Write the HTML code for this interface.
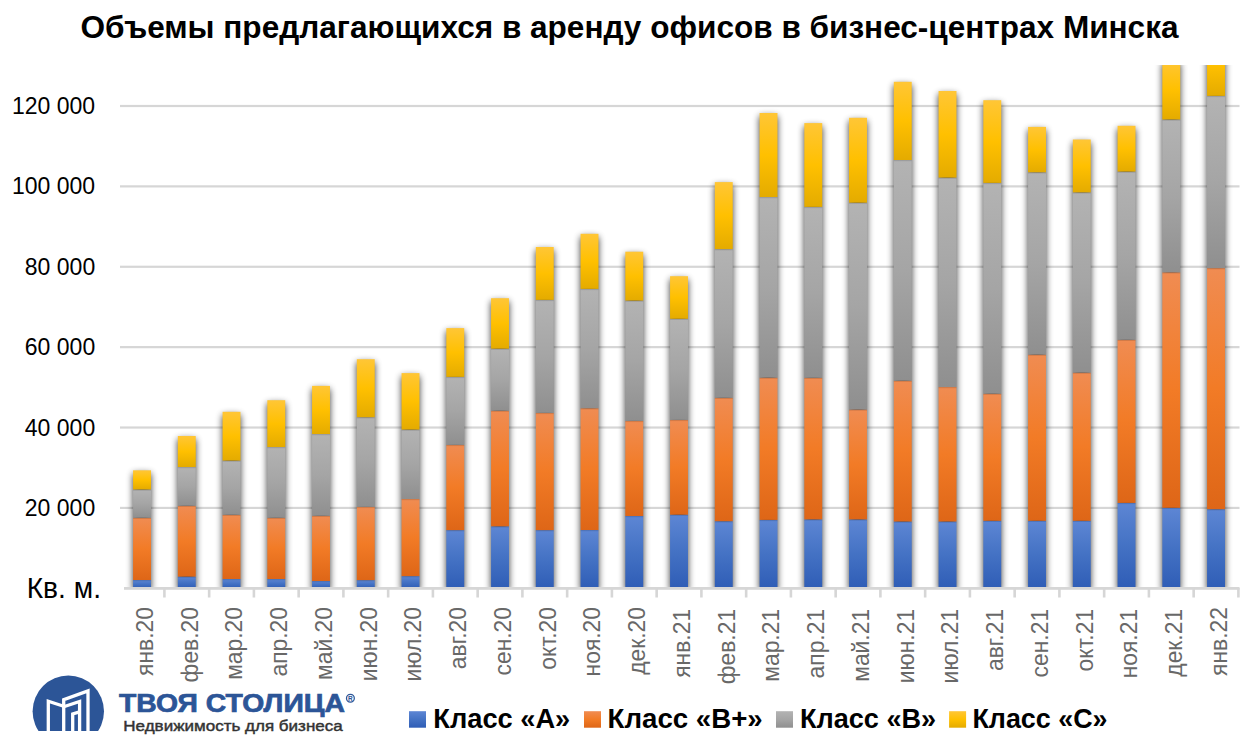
<!DOCTYPE html>
<html><head><meta charset="utf-8"><title>Объемы предлагающихся в аренду офисов</title>
<style>
html,body{margin:0;padding:0;background:#fff;}
body{width:1256px;height:752px;overflow:hidden;position:relative;}
svg{position:absolute;left:0;top:0;display:block;}
.t{font-family:"Liberation Sans","Noto Sans CJK SC",sans-serif;}
</style></head><body>
<svg width="1256" height="752" viewBox="0 0 1256 752">
<defs>
<linearGradient id="gA" x1="0" y1="0" x2="0" y2="1"><stop offset="0" stop-color="#5d86d4"/><stop offset="0.5" stop-color="#4472c4"/><stop offset="1" stop-color="#2f5db6"/></linearGradient>
<linearGradient id="gBp" x1="0" y1="0" x2="0" y2="1"><stop offset="0" stop-color="#f08c52"/><stop offset="0.5" stop-color="#f27b26"/><stop offset="1" stop-color="#de6617"/></linearGradient>
<linearGradient id="gB" x1="0" y1="0" x2="0" y2="1"><stop offset="0" stop-color="#b3b3b3"/><stop offset="0.5" stop-color="#a5a5a5"/><stop offset="1" stop-color="#8f8f8f"/></linearGradient>
<linearGradient id="gC" x1="0" y1="0" x2="0" y2="1"><stop offset="0" stop-color="#ffc636"/><stop offset="0.5" stop-color="#ffc000"/><stop offset="1" stop-color="#e4ab00"/></linearGradient>
<filter id="sh" x="-50%" y="-20%" width="200%" height="140%">
<feGaussianBlur in="SourceAlpha" stdDeviation="3.5"/>
<feOffset dx="0" dy="3" result="b"/>
<feComponentTransfer><feFuncA type="linear" slope="0.78"/></feComponentTransfer>
</filter>
<clipPath id="plot"><rect x="100" y="65" width="1156" height="523.3"/></clipPath>
</defs>
<rect width="1256" height="752" fill="#fff"/>
<rect x="120" y="506.82" width="1119.5" height="2.2" fill="#d6d6d6"/>
<rect x="120" y="426.43" width="1119.5" height="2.2" fill="#d6d6d6"/>
<rect x="120" y="346.05" width="1119.5" height="2.2" fill="#d6d6d6"/>
<rect x="120" y="265.67" width="1119.5" height="2.2" fill="#d6d6d6"/>
<rect x="120" y="185.28" width="1119.5" height="2.2" fill="#d6d6d6"/>
<rect x="120" y="104.90" width="1119.5" height="2.2" fill="#d6d6d6"/>
<g clip-path="url(#plot)">
<rect x="133.08" y="470.30" width="17.9" height="118.00" fill="#000" filter="url(#sh)"/>
<rect x="177.83" y="436.00" width="17.9" height="152.30" fill="#000" filter="url(#sh)"/>
<rect x="222.58" y="411.80" width="17.9" height="176.50" fill="#000" filter="url(#sh)"/>
<rect x="267.32" y="400.20" width="17.9" height="188.10" fill="#000" filter="url(#sh)"/>
<rect x="312.07" y="385.90" width="17.9" height="202.40" fill="#000" filter="url(#sh)"/>
<rect x="356.82" y="359.20" width="17.9" height="229.10" fill="#000" filter="url(#sh)"/>
<rect x="401.57" y="373.10" width="17.9" height="215.20" fill="#000" filter="url(#sh)"/>
<rect x="446.32" y="328.10" width="17.9" height="260.20" fill="#000" filter="url(#sh)"/>
<rect x="491.07" y="298.20" width="17.9" height="290.10" fill="#000" filter="url(#sh)"/>
<rect x="535.82" y="247.00" width="17.9" height="341.30" fill="#000" filter="url(#sh)"/>
<rect x="580.57" y="233.80" width="17.9" height="354.50" fill="#000" filter="url(#sh)"/>
<rect x="625.32" y="251.70" width="17.9" height="336.60" fill="#000" filter="url(#sh)"/>
<rect x="670.07" y="276.20" width="17.9" height="312.10" fill="#000" filter="url(#sh)"/>
<rect x="714.82" y="182.10" width="17.9" height="406.20" fill="#000" filter="url(#sh)"/>
<rect x="759.57" y="113.00" width="17.9" height="475.30" fill="#000" filter="url(#sh)"/>
<rect x="804.32" y="123.10" width="17.9" height="465.20" fill="#000" filter="url(#sh)"/>
<rect x="849.07" y="117.80" width="17.9" height="470.50" fill="#000" filter="url(#sh)"/>
<rect x="893.82" y="81.80" width="17.9" height="506.50" fill="#000" filter="url(#sh)"/>
<rect x="938.57" y="91.00" width="17.9" height="497.30" fill="#000" filter="url(#sh)"/>
<rect x="983.32" y="100.20" width="17.9" height="488.10" fill="#000" filter="url(#sh)"/>
<rect x="1028.08" y="126.90" width="17.9" height="461.40" fill="#000" filter="url(#sh)"/>
<rect x="1072.83" y="139.50" width="17.9" height="448.80" fill="#000" filter="url(#sh)"/>
<rect x="1117.58" y="125.80" width="17.9" height="462.50" fill="#000" filter="url(#sh)"/>
<rect x="1162.33" y="60.00" width="17.9" height="528.30" fill="#000" filter="url(#sh)"/>
<rect x="1207.08" y="34.00" width="17.9" height="554.30" fill="#000" filter="url(#sh)"/>
<rect x="133.08" y="580.00" width="17.9" height="8.30" fill="url(#gA)"/>
<rect x="177.83" y="576.60" width="17.9" height="11.70" fill="url(#gA)"/>
<rect x="222.58" y="579.00" width="17.9" height="9.30" fill="url(#gA)"/>
<rect x="267.32" y="579.00" width="17.9" height="9.30" fill="url(#gA)"/>
<rect x="312.07" y="581.00" width="17.9" height="7.30" fill="url(#gA)"/>
<rect x="356.82" y="580.10" width="17.9" height="8.20" fill="url(#gA)"/>
<rect x="401.57" y="576.10" width="17.9" height="12.20" fill="url(#gA)"/>
<rect x="446.32" y="530.10" width="17.9" height="58.20" fill="url(#gA)"/>
<rect x="491.07" y="526.30" width="17.9" height="62.00" fill="url(#gA)"/>
<rect x="535.82" y="530.10" width="17.9" height="58.20" fill="url(#gA)"/>
<rect x="580.57" y="530.00" width="17.9" height="58.30" fill="url(#gA)"/>
<rect x="625.32" y="516.00" width="17.9" height="72.30" fill="url(#gA)"/>
<rect x="670.07" y="514.70" width="17.9" height="73.60" fill="url(#gA)"/>
<rect x="714.82" y="521.20" width="17.9" height="67.10" fill="url(#gA)"/>
<rect x="759.57" y="519.90" width="17.9" height="68.40" fill="url(#gA)"/>
<rect x="804.32" y="519.40" width="17.9" height="68.90" fill="url(#gA)"/>
<rect x="849.07" y="519.40" width="17.9" height="68.90" fill="url(#gA)"/>
<rect x="893.82" y="521.50" width="17.9" height="66.80" fill="url(#gA)"/>
<rect x="938.57" y="521.50" width="17.9" height="66.80" fill="url(#gA)"/>
<rect x="983.32" y="520.80" width="17.9" height="67.50" fill="url(#gA)"/>
<rect x="1028.08" y="520.80" width="17.9" height="67.50" fill="url(#gA)"/>
<rect x="1072.83" y="520.80" width="17.9" height="67.50" fill="url(#gA)"/>
<rect x="1117.58" y="502.90" width="17.9" height="85.40" fill="url(#gA)"/>
<rect x="1162.33" y="507.80" width="17.9" height="80.50" fill="url(#gA)"/>
<rect x="1207.08" y="509.20" width="17.9" height="79.10" fill="url(#gA)"/>
<rect x="133.08" y="517.80" width="17.9" height="62.20" fill="url(#gBp)"/>
<rect x="177.83" y="505.80" width="17.9" height="70.80" fill="url(#gBp)"/>
<rect x="222.58" y="514.80" width="17.9" height="64.20" fill="url(#gBp)"/>
<rect x="267.32" y="517.80" width="17.9" height="61.20" fill="url(#gBp)"/>
<rect x="312.07" y="515.80" width="17.9" height="65.20" fill="url(#gBp)"/>
<rect x="356.82" y="506.90" width="17.9" height="73.20" fill="url(#gBp)"/>
<rect x="401.57" y="499.00" width="17.9" height="77.10" fill="url(#gBp)"/>
<rect x="446.32" y="444.90" width="17.9" height="85.20" fill="url(#gBp)"/>
<rect x="491.07" y="410.70" width="17.9" height="115.60" fill="url(#gBp)"/>
<rect x="535.82" y="412.90" width="17.9" height="117.20" fill="url(#gBp)"/>
<rect x="580.57" y="408.20" width="17.9" height="121.80" fill="url(#gBp)"/>
<rect x="625.32" y="420.90" width="17.9" height="95.10" fill="url(#gBp)"/>
<rect x="670.07" y="419.90" width="17.9" height="94.80" fill="url(#gBp)"/>
<rect x="714.82" y="397.80" width="17.9" height="123.40" fill="url(#gBp)"/>
<rect x="759.57" y="377.60" width="17.9" height="142.30" fill="url(#gBp)"/>
<rect x="804.32" y="377.80" width="17.9" height="141.60" fill="url(#gBp)"/>
<rect x="849.07" y="409.50" width="17.9" height="109.90" fill="url(#gBp)"/>
<rect x="893.82" y="380.70" width="17.9" height="140.80" fill="url(#gBp)"/>
<rect x="938.57" y="387.00" width="17.9" height="134.50" fill="url(#gBp)"/>
<rect x="983.32" y="393.70" width="17.9" height="127.10" fill="url(#gBp)"/>
<rect x="1028.08" y="354.60" width="17.9" height="166.20" fill="url(#gBp)"/>
<rect x="1072.83" y="372.60" width="17.9" height="148.20" fill="url(#gBp)"/>
<rect x="1117.58" y="339.80" width="17.9" height="163.10" fill="url(#gBp)"/>
<rect x="1162.33" y="272.30" width="17.9" height="235.50" fill="url(#gBp)"/>
<rect x="1207.08" y="268.10" width="17.9" height="241.10" fill="url(#gBp)"/>
<rect x="133.08" y="489.50" width="17.9" height="28.30" fill="url(#gB)"/>
<rect x="177.83" y="467.00" width="17.9" height="38.80" fill="url(#gB)"/>
<rect x="222.58" y="460.60" width="17.9" height="54.20" fill="url(#gB)"/>
<rect x="267.32" y="447.00" width="17.9" height="70.80" fill="url(#gB)"/>
<rect x="312.07" y="434.00" width="17.9" height="81.80" fill="url(#gB)"/>
<rect x="356.82" y="417.20" width="17.9" height="89.70" fill="url(#gB)"/>
<rect x="401.57" y="429.60" width="17.9" height="69.40" fill="url(#gB)"/>
<rect x="446.32" y="376.90" width="17.9" height="68.00" fill="url(#gB)"/>
<rect x="491.07" y="348.70" width="17.9" height="62.00" fill="url(#gB)"/>
<rect x="535.82" y="299.90" width="17.9" height="113.00" fill="url(#gB)"/>
<rect x="580.57" y="288.90" width="17.9" height="119.30" fill="url(#gB)"/>
<rect x="625.32" y="300.60" width="17.9" height="120.30" fill="url(#gB)"/>
<rect x="670.07" y="318.80" width="17.9" height="101.10" fill="url(#gB)"/>
<rect x="714.82" y="249.10" width="17.9" height="148.70" fill="url(#gB)"/>
<rect x="759.57" y="197.00" width="17.9" height="180.60" fill="url(#gB)"/>
<rect x="804.32" y="206.90" width="17.9" height="170.90" fill="url(#gB)"/>
<rect x="849.07" y="202.70" width="17.9" height="206.80" fill="url(#gB)"/>
<rect x="893.82" y="160.00" width="17.9" height="220.70" fill="url(#gB)"/>
<rect x="938.57" y="177.60" width="17.9" height="209.40" fill="url(#gB)"/>
<rect x="983.32" y="182.90" width="17.9" height="210.80" fill="url(#gB)"/>
<rect x="1028.08" y="172.30" width="17.9" height="182.30" fill="url(#gB)"/>
<rect x="1072.83" y="192.40" width="17.9" height="180.20" fill="url(#gB)"/>
<rect x="1117.58" y="171.60" width="17.9" height="168.20" fill="url(#gB)"/>
<rect x="1162.33" y="119.50" width="17.9" height="152.80" fill="url(#gB)"/>
<rect x="1207.08" y="95.90" width="17.9" height="172.20" fill="url(#gB)"/>
<rect x="133.08" y="470.30" width="17.9" height="19.20" fill="url(#gC)"/>
<rect x="177.83" y="436.00" width="17.9" height="31.00" fill="url(#gC)"/>
<rect x="222.58" y="411.80" width="17.9" height="48.80" fill="url(#gC)"/>
<rect x="267.32" y="400.20" width="17.9" height="46.80" fill="url(#gC)"/>
<rect x="312.07" y="385.90" width="17.9" height="48.10" fill="url(#gC)"/>
<rect x="356.82" y="359.20" width="17.9" height="58.00" fill="url(#gC)"/>
<rect x="401.57" y="373.10" width="17.9" height="56.50" fill="url(#gC)"/>
<rect x="446.32" y="328.10" width="17.9" height="48.80" fill="url(#gC)"/>
<rect x="491.07" y="298.20" width="17.9" height="50.50" fill="url(#gC)"/>
<rect x="535.82" y="247.00" width="17.9" height="52.90" fill="url(#gC)"/>
<rect x="580.57" y="233.80" width="17.9" height="55.10" fill="url(#gC)"/>
<rect x="625.32" y="251.70" width="17.9" height="48.90" fill="url(#gC)"/>
<rect x="670.07" y="276.20" width="17.9" height="42.60" fill="url(#gC)"/>
<rect x="714.82" y="182.10" width="17.9" height="67.00" fill="url(#gC)"/>
<rect x="759.57" y="113.00" width="17.9" height="84.00" fill="url(#gC)"/>
<rect x="804.32" y="123.10" width="17.9" height="83.80" fill="url(#gC)"/>
<rect x="849.07" y="117.80" width="17.9" height="84.90" fill="url(#gC)"/>
<rect x="893.82" y="81.80" width="17.9" height="78.20" fill="url(#gC)"/>
<rect x="938.57" y="91.00" width="17.9" height="86.60" fill="url(#gC)"/>
<rect x="983.32" y="100.20" width="17.9" height="82.70" fill="url(#gC)"/>
<rect x="1028.08" y="126.90" width="17.9" height="45.40" fill="url(#gC)"/>
<rect x="1072.83" y="139.50" width="17.9" height="52.90" fill="url(#gC)"/>
<rect x="1117.58" y="125.80" width="17.9" height="45.80" fill="url(#gC)"/>
<rect x="1162.33" y="60.00" width="17.9" height="59.50" fill="url(#gC)"/>
<rect x="1207.08" y="34.00" width="17.9" height="61.90" fill="url(#gC)"/>
<rect x="133.08" y="580.00" width="17.9" height="1.2" fill="#000" fill-opacity="0.12"/>
<rect x="177.83" y="576.60" width="17.9" height="1.2" fill="#000" fill-opacity="0.12"/>
<rect x="222.58" y="579.00" width="17.9" height="1.2" fill="#000" fill-opacity="0.12"/>
<rect x="267.32" y="579.00" width="17.9" height="1.2" fill="#000" fill-opacity="0.12"/>
<rect x="312.07" y="581.00" width="17.9" height="1.2" fill="#000" fill-opacity="0.12"/>
<rect x="356.82" y="580.10" width="17.9" height="1.2" fill="#000" fill-opacity="0.12"/>
<rect x="401.57" y="576.10" width="17.9" height="1.2" fill="#000" fill-opacity="0.12"/>
<rect x="446.32" y="530.10" width="17.9" height="1.2" fill="#000" fill-opacity="0.12"/>
<rect x="491.07" y="526.30" width="17.9" height="1.2" fill="#000" fill-opacity="0.12"/>
<rect x="535.82" y="530.10" width="17.9" height="1.2" fill="#000" fill-opacity="0.12"/>
<rect x="580.57" y="530.00" width="17.9" height="1.2" fill="#000" fill-opacity="0.12"/>
<rect x="625.32" y="516.00" width="17.9" height="1.2" fill="#000" fill-opacity="0.12"/>
<rect x="670.07" y="514.70" width="17.9" height="1.2" fill="#000" fill-opacity="0.12"/>
<rect x="714.82" y="521.20" width="17.9" height="1.2" fill="#000" fill-opacity="0.12"/>
<rect x="759.57" y="519.90" width="17.9" height="1.2" fill="#000" fill-opacity="0.12"/>
<rect x="804.32" y="519.40" width="17.9" height="1.2" fill="#000" fill-opacity="0.12"/>
<rect x="849.07" y="519.40" width="17.9" height="1.2" fill="#000" fill-opacity="0.12"/>
<rect x="893.82" y="521.50" width="17.9" height="1.2" fill="#000" fill-opacity="0.12"/>
<rect x="938.57" y="521.50" width="17.9" height="1.2" fill="#000" fill-opacity="0.12"/>
<rect x="983.32" y="520.80" width="17.9" height="1.2" fill="#000" fill-opacity="0.12"/>
<rect x="1028.08" y="520.80" width="17.9" height="1.2" fill="#000" fill-opacity="0.12"/>
<rect x="1072.83" y="520.80" width="17.9" height="1.2" fill="#000" fill-opacity="0.12"/>
<rect x="1117.58" y="502.90" width="17.9" height="1.2" fill="#000" fill-opacity="0.12"/>
<rect x="1162.33" y="507.80" width="17.9" height="1.2" fill="#000" fill-opacity="0.12"/>
<rect x="1207.08" y="509.20" width="17.9" height="1.2" fill="#000" fill-opacity="0.12"/>
<rect x="133.08" y="517.80" width="17.9" height="1.2" fill="#000" fill-opacity="0.12"/>
<rect x="177.83" y="505.80" width="17.9" height="1.2" fill="#000" fill-opacity="0.12"/>
<rect x="222.58" y="514.80" width="17.9" height="1.2" fill="#000" fill-opacity="0.12"/>
<rect x="267.32" y="517.80" width="17.9" height="1.2" fill="#000" fill-opacity="0.12"/>
<rect x="312.07" y="515.80" width="17.9" height="1.2" fill="#000" fill-opacity="0.12"/>
<rect x="356.82" y="506.90" width="17.9" height="1.2" fill="#000" fill-opacity="0.12"/>
<rect x="401.57" y="499.00" width="17.9" height="1.2" fill="#000" fill-opacity="0.12"/>
<rect x="446.32" y="444.90" width="17.9" height="1.2" fill="#000" fill-opacity="0.12"/>
<rect x="491.07" y="410.70" width="17.9" height="1.2" fill="#000" fill-opacity="0.12"/>
<rect x="535.82" y="412.90" width="17.9" height="1.2" fill="#000" fill-opacity="0.12"/>
<rect x="580.57" y="408.20" width="17.9" height="1.2" fill="#000" fill-opacity="0.12"/>
<rect x="625.32" y="420.90" width="17.9" height="1.2" fill="#000" fill-opacity="0.12"/>
<rect x="670.07" y="419.90" width="17.9" height="1.2" fill="#000" fill-opacity="0.12"/>
<rect x="714.82" y="397.80" width="17.9" height="1.2" fill="#000" fill-opacity="0.12"/>
<rect x="759.57" y="377.60" width="17.9" height="1.2" fill="#000" fill-opacity="0.12"/>
<rect x="804.32" y="377.80" width="17.9" height="1.2" fill="#000" fill-opacity="0.12"/>
<rect x="849.07" y="409.50" width="17.9" height="1.2" fill="#000" fill-opacity="0.12"/>
<rect x="893.82" y="380.70" width="17.9" height="1.2" fill="#000" fill-opacity="0.12"/>
<rect x="938.57" y="387.00" width="17.9" height="1.2" fill="#000" fill-opacity="0.12"/>
<rect x="983.32" y="393.70" width="17.9" height="1.2" fill="#000" fill-opacity="0.12"/>
<rect x="1028.08" y="354.60" width="17.9" height="1.2" fill="#000" fill-opacity="0.12"/>
<rect x="1072.83" y="372.60" width="17.9" height="1.2" fill="#000" fill-opacity="0.12"/>
<rect x="1117.58" y="339.80" width="17.9" height="1.2" fill="#000" fill-opacity="0.12"/>
<rect x="1162.33" y="272.30" width="17.9" height="1.2" fill="#000" fill-opacity="0.12"/>
<rect x="1207.08" y="268.10" width="17.9" height="1.2" fill="#000" fill-opacity="0.12"/>
<rect x="133.08" y="489.50" width="17.9" height="1.2" fill="#000" fill-opacity="0.12"/>
<rect x="177.83" y="467.00" width="17.9" height="1.2" fill="#000" fill-opacity="0.12"/>
<rect x="222.58" y="460.60" width="17.9" height="1.2" fill="#000" fill-opacity="0.12"/>
<rect x="267.32" y="447.00" width="17.9" height="1.2" fill="#000" fill-opacity="0.12"/>
<rect x="312.07" y="434.00" width="17.9" height="1.2" fill="#000" fill-opacity="0.12"/>
<rect x="356.82" y="417.20" width="17.9" height="1.2" fill="#000" fill-opacity="0.12"/>
<rect x="401.57" y="429.60" width="17.9" height="1.2" fill="#000" fill-opacity="0.12"/>
<rect x="446.32" y="376.90" width="17.9" height="1.2" fill="#000" fill-opacity="0.12"/>
<rect x="491.07" y="348.70" width="17.9" height="1.2" fill="#000" fill-opacity="0.12"/>
<rect x="535.82" y="299.90" width="17.9" height="1.2" fill="#000" fill-opacity="0.12"/>
<rect x="580.57" y="288.90" width="17.9" height="1.2" fill="#000" fill-opacity="0.12"/>
<rect x="625.32" y="300.60" width="17.9" height="1.2" fill="#000" fill-opacity="0.12"/>
<rect x="670.07" y="318.80" width="17.9" height="1.2" fill="#000" fill-opacity="0.12"/>
<rect x="714.82" y="249.10" width="17.9" height="1.2" fill="#000" fill-opacity="0.12"/>
<rect x="759.57" y="197.00" width="17.9" height="1.2" fill="#000" fill-opacity="0.12"/>
<rect x="804.32" y="206.90" width="17.9" height="1.2" fill="#000" fill-opacity="0.12"/>
<rect x="849.07" y="202.70" width="17.9" height="1.2" fill="#000" fill-opacity="0.12"/>
<rect x="893.82" y="160.00" width="17.9" height="1.2" fill="#000" fill-opacity="0.12"/>
<rect x="938.57" y="177.60" width="17.9" height="1.2" fill="#000" fill-opacity="0.12"/>
<rect x="983.32" y="182.90" width="17.9" height="1.2" fill="#000" fill-opacity="0.12"/>
<rect x="1028.08" y="172.30" width="17.9" height="1.2" fill="#000" fill-opacity="0.12"/>
<rect x="1072.83" y="192.40" width="17.9" height="1.2" fill="#000" fill-opacity="0.12"/>
<rect x="1117.58" y="171.60" width="17.9" height="1.2" fill="#000" fill-opacity="0.12"/>
<rect x="1162.33" y="119.50" width="17.9" height="1.2" fill="#000" fill-opacity="0.12"/>
<rect x="1207.08" y="95.90" width="17.9" height="1.2" fill="#000" fill-opacity="0.12"/>
</g>
<rect x="124" y="587" width="1115.5" height="2.8" fill="#d6d6d6"/>
<rect x="163.10" y="588" width="2.6" height="9.5" fill="#d6d6d6"/>
<rect x="207.85" y="588" width="2.6" height="9.5" fill="#d6d6d6"/>
<rect x="252.60" y="588" width="2.6" height="9.5" fill="#d6d6d6"/>
<rect x="297.35" y="588" width="2.6" height="9.5" fill="#d6d6d6"/>
<rect x="342.10" y="588" width="2.6" height="9.5" fill="#d6d6d6"/>
<rect x="386.85" y="588" width="2.6" height="9.5" fill="#d6d6d6"/>
<rect x="431.60" y="588" width="2.6" height="9.5" fill="#d6d6d6"/>
<rect x="476.35" y="588" width="2.6" height="9.5" fill="#d6d6d6"/>
<rect x="521.10" y="588" width="2.6" height="9.5" fill="#d6d6d6"/>
<rect x="565.85" y="588" width="2.6" height="9.5" fill="#d6d6d6"/>
<rect x="610.60" y="588" width="2.6" height="9.5" fill="#d6d6d6"/>
<rect x="655.35" y="588" width="2.6" height="9.5" fill="#d6d6d6"/>
<rect x="700.10" y="588" width="2.6" height="9.5" fill="#d6d6d6"/>
<rect x="744.85" y="588" width="2.6" height="9.5" fill="#d6d6d6"/>
<rect x="789.60" y="588" width="2.6" height="9.5" fill="#d6d6d6"/>
<rect x="834.35" y="588" width="2.6" height="9.5" fill="#d6d6d6"/>
<rect x="879.10" y="588" width="2.6" height="9.5" fill="#d6d6d6"/>
<rect x="923.85" y="588" width="2.6" height="9.5" fill="#d6d6d6"/>
<rect x="968.60" y="588" width="2.6" height="9.5" fill="#d6d6d6"/>
<rect x="1013.35" y="588" width="2.6" height="9.5" fill="#d6d6d6"/>
<rect x="1058.10" y="588" width="2.6" height="9.5" fill="#d6d6d6"/>
<rect x="1102.85" y="588" width="2.6" height="9.5" fill="#d6d6d6"/>
<rect x="1147.60" y="588" width="2.6" height="9.5" fill="#d6d6d6"/>
<rect x="1192.35" y="588" width="2.6" height="9.5" fill="#d6d6d6"/>
<rect x="1237.10" y="588" width="2.6" height="9.5" fill="#d6d6d6"/>
<text class="t" transform="translate(24.83,515.92) scale(1.0000,1)" font-size="23" fill="#000">20 000</text>
<text class="t" transform="translate(24.83,435.53) scale(1.0000,1)" font-size="23" fill="#000">40 000</text>
<text class="t" transform="translate(24.83,355.15) scale(1.0000,1)" font-size="23" fill="#000">60 000</text>
<text class="t" transform="translate(24.83,274.77) scale(1.0000,1)" font-size="23" fill="#000">80 000</text>
<text class="t" transform="translate(11.95,194.38) scale(1.0000,1)" font-size="23" fill="#000">100 000</text>
<text class="t" transform="translate(11.95,114.00) scale(1.0000,1)" font-size="23" fill="#000">120 000</text>
<text class="t" transform="translate(26.66,597.50) scale(0.9629,1)" font-size="29.3" fill="#000">Кв. м.</text>
<text class="t" transform="translate(152.83,607.00) rotate(-90) scale(0.985,1)" text-anchor="end" font-size="23.2" fill="#686868">янв.20</text>
<text class="t" transform="translate(197.58,607.00) rotate(-90) scale(0.985,1)" text-anchor="end" font-size="23.2" fill="#686868">фев.20</text>
<text class="t" transform="translate(242.33,607.00) rotate(-90) scale(0.985,1)" text-anchor="end" font-size="23.2" fill="#686868">мар.20</text>
<text class="t" transform="translate(287.07,607.00) rotate(-90) scale(0.985,1)" text-anchor="end" font-size="23.2" fill="#686868">апр.20</text>
<text class="t" transform="translate(331.82,607.00) rotate(-90) scale(0.985,1)" text-anchor="end" font-size="23.2" fill="#686868">май.20</text>
<text class="t" transform="translate(376.57,607.00) rotate(-90) scale(0.985,1)" text-anchor="end" font-size="23.2" fill="#686868">июн.20</text>
<text class="t" transform="translate(421.32,607.00) rotate(-90) scale(0.985,1)" text-anchor="end" font-size="23.2" fill="#686868">июл.20</text>
<text class="t" transform="translate(466.07,607.00) rotate(-90) scale(0.985,1)" text-anchor="end" font-size="23.2" fill="#686868">авг.20</text>
<text class="t" transform="translate(510.82,607.00) rotate(-90) scale(0.985,1)" text-anchor="end" font-size="23.2" fill="#686868">сен.20</text>
<text class="t" transform="translate(555.57,607.00) rotate(-90) scale(0.985,1)" text-anchor="end" font-size="23.2" fill="#686868">окт.20</text>
<text class="t" transform="translate(600.32,607.00) rotate(-90) scale(0.985,1)" text-anchor="end" font-size="23.2" fill="#686868">ноя.20</text>
<text class="t" transform="translate(645.07,607.00) rotate(-90) scale(0.985,1)" text-anchor="end" font-size="23.2" fill="#686868">дек.20</text>
<text class="t" transform="translate(689.82,608.90) rotate(-90) scale(0.985,1)" text-anchor="end" font-size="23.2" fill="#686868">янв.21</text>
<text class="t" transform="translate(734.57,608.90) rotate(-90) scale(0.985,1)" text-anchor="end" font-size="23.2" fill="#686868">фев.21</text>
<text class="t" transform="translate(779.32,608.90) rotate(-90) scale(0.985,1)" text-anchor="end" font-size="23.2" fill="#686868">мар.21</text>
<text class="t" transform="translate(824.07,608.90) rotate(-90) scale(0.985,1)" text-anchor="end" font-size="23.2" fill="#686868">апр.21</text>
<text class="t" transform="translate(868.82,608.90) rotate(-90) scale(0.985,1)" text-anchor="end" font-size="23.2" fill="#686868">май.21</text>
<text class="t" transform="translate(913.57,608.90) rotate(-90) scale(0.985,1)" text-anchor="end" font-size="23.2" fill="#686868">июн.21</text>
<text class="t" transform="translate(958.32,608.90) rotate(-90) scale(0.985,1)" text-anchor="end" font-size="23.2" fill="#686868">июл.21</text>
<text class="t" transform="translate(1003.07,608.90) rotate(-90) scale(0.985,1)" text-anchor="end" font-size="23.2" fill="#686868">авг.21</text>
<text class="t" transform="translate(1047.83,608.90) rotate(-90) scale(0.985,1)" text-anchor="end" font-size="23.2" fill="#686868">сен.21</text>
<text class="t" transform="translate(1092.58,608.90) rotate(-90) scale(0.985,1)" text-anchor="end" font-size="23.2" fill="#686868">окт.21</text>
<text class="t" transform="translate(1137.33,608.90) rotate(-90) scale(0.985,1)" text-anchor="end" font-size="23.2" fill="#686868">ноя.21</text>
<text class="t" transform="translate(1182.08,608.90) rotate(-90) scale(0.985,1)" text-anchor="end" font-size="23.2" fill="#686868">дек.21</text>
<text class="t" transform="translate(1226.83,607.00) rotate(-90) scale(0.985,1)" text-anchor="end" font-size="23.2" fill="#686868">янв.22</text>
<text class="t" transform="translate(80.55,38.30) scale(1.0018,1)" font-size="31.5" font-weight="bold" fill="#000">Объемы предлагающихся в аренду офисов в бизнес-центрах Минска</text>
<rect x="409.0" y="711.2" width="17" height="16.5" fill="url(#gA)"/>
<text class="t" transform="translate(433.27,727.70) scale(0.9737,1)" font-size="28" font-weight="bold" fill="#000">Класс «А»</text>
<rect x="584" y="711.2" width="17" height="16.5" fill="url(#gBp)"/>
<text class="t" transform="translate(607.55,727.70) scale(0.9883,1)" font-size="28" font-weight="bold" fill="#000">Класс «В+»</text>
<rect x="776" y="711.2" width="17" height="16.5" fill="url(#gB)"/>
<text class="t" transform="translate(799.99,727.70) scale(0.9671,1)" font-size="28" font-weight="bold" fill="#000">Класс «В»</text>
<rect x="949.1" y="711.2" width="17" height="16.5" fill="url(#gC)"/>
<text class="t" transform="translate(972.40,727.70) scale(0.9606,1)" font-size="28" font-weight="bold" fill="#000">Класс «С»</text>
<clipPath id="lc"><rect x="0" y="0" width="200" height="731"/></clipPath>
<circle cx="68.3" cy="711.3" r="35.7" fill="#2c5597" clip-path="url(#lc)"/>
<g fill="none" stroke="#fff" stroke-width="3.3" stroke-linejoin="miter">
<polyline points="48.3,731 48.3,701.2 63.7,706.3"/>
<polyline points="63.7,731 63.7,699.6 88,690.9 88,731"/>
<polyline points="63.7,706.8 79.6,701.5 79.6,731"/>
<polyline points="79.6,711.9 72.7,713.9 72.7,731"/>
</g>
<text class="t" transform="translate(118.92,711.80) scale(1.1247,1)" font-size="25.2" font-weight="bold" fill="#2c5597" stroke="#2c5597" stroke-width="0.7">ТВОЯ СТОЛИЦА</text>
<circle cx="350.4" cy="698.2" r="3.9" fill="none" stroke="#2c5597" stroke-width="1.3"/><text class="t" x="350.4" y="700.6" font-size="6.5" font-weight="bold" text-anchor="middle" fill="#2c5597">R</text>
<text class="t" transform="translate(123.31,731.00) scale(1.1130,1)" font-size="15.3" fill="#333" stroke="#333" stroke-width="0.45">Недвижимость для бизнеса</text>
</svg>
</body></html>
